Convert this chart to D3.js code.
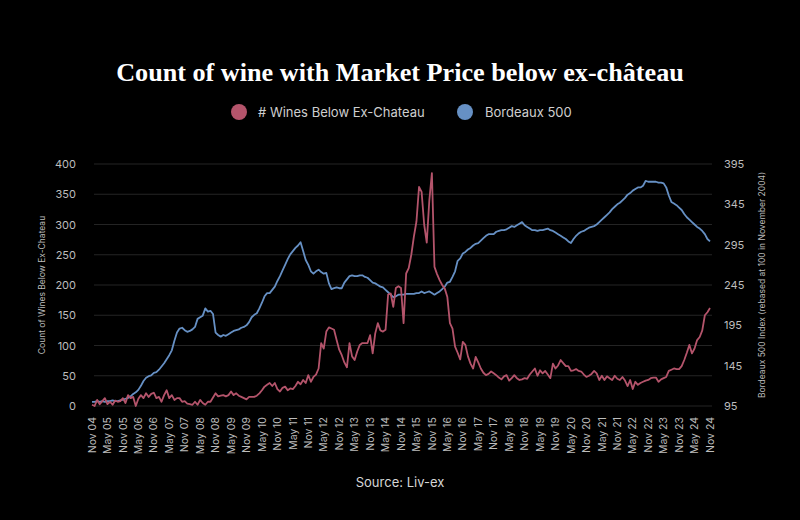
<!DOCTYPE html>
<html>
<head>
<meta charset="utf-8">
<script src="https://cdn.jsdelivr.net/npm/d3@7"></script>
<style>
  html, body { margin: 0; padding: 0; background: #000; }
  svg { display: block; }
</style>
</head>
<body>
<svg id="chart" width="800" height="520"></svg>
<script>
// ---- Data (monthly, Nov 2004 .. Nov 2024) ----
const winesBelow = [
  2,0,10,3,8,13,3,7,2,9,7,8,13,5,18,13,15,0,12,18,13,21,15,20,22,13,15,7,18,26,
  13,18,10,13,13,7,8,4,3,2,7,2,10,5,2,7,7,14,21,16,17,18,16,18,24,18,21,17,15,13,
  11,15,15,15,17,21,26,32,35,38,33,38,28,24,30,32,26,29,28,33,40,36,43,38,51,40,48,52,62,104,
  95,123,130,128,126,109,93,84,72,64,104,82,76,90,101,104,104,104,117,87,120,137,125,123,126,184,186,164,195,198,
  195,137,219,228,250,280,305,362,354,300,270,340,385,230,218,208,200,194,180,137,128,98,88,77,106,101,82,70,62,81,
  72,62,55,51,53,57,54,51,47,44,49,51,42,46,51,46,43,44,46,45,52,57,62,50,59,54,58,52,46,70,
  62,67,76,71,66,66,58,59,61,58,57,52,48,50,53,58,54,43,50,43,49,46,43,50,45,43,48,42,33,43,
  28,40,35,38,40,42,43,46,47,47,40,44,46,48,58,60,62,61,61,66,76,88,101,87,95,109,114,125,150,155,
  162
];
const bordeaux500 = [
  100,100,101,100,101,100,101,101,102,101,101,102,103,104,105,107,110,112,115,120,126,130,132,133,136,137,140,144,148,153,
  158,164,176,186,191,192,189,187,188,190,193,203,205,207,216,212,213,209,186,183,181,183,182,184,186,188,189,190,192,193,
  195,199,205,208,210,216,223,231,235,235,239,243,250,256,263,270,277,283,287,291,294,298,287,276,270,262,259,262,264,261,
  259,260,247,240,241,242,241,241,248,252,256,257,256,256,257,257,255,254,251,248,247,245,243,242,239,236,233,230,231,233,
  233,233,234,234,234,234,235,235,237,235,236,237,235,233,235,237,240,243,248,249,255,262,275,278,284,286,289,291,294,296,
  297,300,303,306,308,308,308,311,312,313,313,314,316,318,317,319,321,323,319,317,315,313,313,312,313,313,314,315,313,312,
  310,308,306,304,302,299,297,302,306,309,311,312,314,316,317,318,320,323,326,329,332,335,339,342,345,347,350,353,357,359,
  362,364,366,366,368,374,373,373,373,373,372,372,371,366,356,348,346,344,341,338,333,329,326,323,320,317,315,312,308,302,
  299
];
const xTickLabels = [
  "Nov 04","May 05","Nov 05","May 06","Nov 06","May 07","Nov 07","May 08","Nov 08","May 09",
  "Nov 09","May 10","Nov 10","May 11","Nov 11","May 12","Nov 12","May 13","Nov 13","May 14",
  "Nov 14","May 15","Nov 15","May 16","Nov 16","May 17","Nov 17","May 18","Nov 18","May 19",
  "Nov 19","May 20","Nov 20","May 21","Nov 21","May 22","Nov 22","May 23","Nov 23","May 24","Nov 24"
];
const leftTicks = [0, 50, 100, 150, 200, 250, 300, 350, 400];
const rightTicks = [95, 145, 195, 245, 295, 345, 395];
const seriesNames = ["# Wines Below Ex-Chateau", "Bordeaux 500"];
const seriesColors = ["#b4546b", "#6690c4"];

// ---- Layout ----
const svg = d3.select("#chart");
const W = 800, H = 520;
const plot = { left: 92, right: 710, top: 164, bottom: 406 };
const FONT = "Inter, 'Noto Sans', sans-serif";

svg.append("rect").attr("width", W).attr("height", H).attr("fill", "#000");

const x = d3.scaleLinear().domain([0, winesBelow.length - 1]).range([plot.left, plot.right]);
const yL = d3.scaleLinear().domain([0, 400]).range([plot.bottom, plot.top]);
const yR = d3.scaleLinear().domain([95, 395]).range([plot.bottom, plot.top]);

// Title (font size fitted to the reference width)
const title = svg.append("text")
  .attr("x", 400).attr("y", 81)
  .attr("text-anchor", "middle")
  .attr("fill", "#fff")
  .attr("font-family", "'Liberation Serif', 'DejaVu Serif', serif")
  .attr("font-weight", "bold")
  .attr("font-size", 30)
  .text("Count of wine with Market Price below ex-château");
const tw = title.node().getComputedTextLength();
title.attr("font-size", Math.min(34, 30 * 568 / tw));

// Legend
const legendItems = [
  { name: seriesNames[0], color: seriesColors[0], cx: 239, tx: 258 },
  { name: seriesNames[1], color: seriesColors[1], cx: 465, tx: 485 }
];
const lg = svg.append("g");
legendItems.forEach(d => {
  lg.append("circle").attr("cx", d.cx).attr("cy", 112).attr("r", 8).attr("fill", d.color);
  lg.append("text").attr("x", d.tx).attr("y", 112).attr("dy", "0.35em")
    .attr("fill", "#cfcfcf").attr("font-family", FONT).attr("font-size", 13)
    .text(d.name);
});

// Gridlines
svg.append("g").selectAll("line").data(leftTicks).join("line")
  .attr("x1", plot.left + 2).attr("x2", plot.right + 2)
  .attr("y1", d => yL(d)).attr("y2", d => yL(d))
  .attr("stroke", "#242424").attr("stroke-width", 1);

// Left axis
const axL = svg.append("g").attr("transform", `translate(${plot.left - 10},0)`)
  .call(d3.axisLeft(yL).tickValues(leftTicks).tickSize(0).tickPadding(6));
axL.select(".domain").remove();
axL.selectAll("text").attr("fill", "#bdbdbd").attr("font-family", FONT).attr("font-size", 11);

// Right axis
const axR = svg.append("g").attr("transform", `translate(${plot.right + 10},0)`)
  .call(d3.axisRight(yR).tickValues(rightTicks).tickSize(0).tickPadding(4));
axR.select(".domain").remove();
axR.selectAll("text").attr("fill", "#bdbdbd").attr("font-family", FONT).attr("font-size", 11);

// Axis titles
svg.append("text")
  .attr("transform", `translate(42,285) rotate(-90)`)
  .attr("text-anchor", "middle").attr("dy", "0.35em")
  .attr("fill", "#bdbdbd").attr("font-family", FONT).attr("font-size", 8.5)
  .text("Count of Wines Below Ex-Chateau");
svg.append("text")
  .attr("transform", `translate(762,285) rotate(-90)`)
  .attr("text-anchor", "middle").attr("dy", "0.35em")
  .attr("fill", "#bdbdbd").attr("font-family", FONT).attr("font-size", 8.5)
  .text("Bordeaux 500 Index (rebased at 100 in November 2004)");

// X axis labels (every 6 months)
const xg = svg.append("g");
xg.selectAll("text").data(xTickLabels).join("text")
  .attr("transform", (d, i) => `translate(${x(i * 6)},417) rotate(-90)`)
  .attr("text-anchor", "end").attr("dy", "0.35em")
  .attr("fill", "#bdbdbd").attr("font-family", FONT).attr("font-size", 10.5)
  .text(d => d);

// Lines
const lineL = d3.line().x((d, i) => x(i)).y(d => yL(d));
const lineR = d3.line().x((d, i) => x(i)).y(d => yR(d));
svg.append("path").datum(bordeaux500).attr("d", lineR)
  .attr("fill", "none").attr("stroke", seriesColors[1]).attr("stroke-width", 1.8)
  .attr("stroke-linejoin", "round");
svg.append("path").datum(winesBelow).attr("d", lineL)
  .attr("fill", "none").attr("stroke", seriesColors[0]).attr("stroke-width", 1.8)
  .attr("stroke-linejoin", "round");

// Source
svg.append("text")
  .attr("x", 400).attr("y", 482).attr("text-anchor", "middle").attr("dy", "0.35em")
  .attr("fill", "#d6d6d6").attr("font-family", FONT).attr("font-size", 13)
  .text("Source: Liv-ex");
</script>
</body>
</html>
